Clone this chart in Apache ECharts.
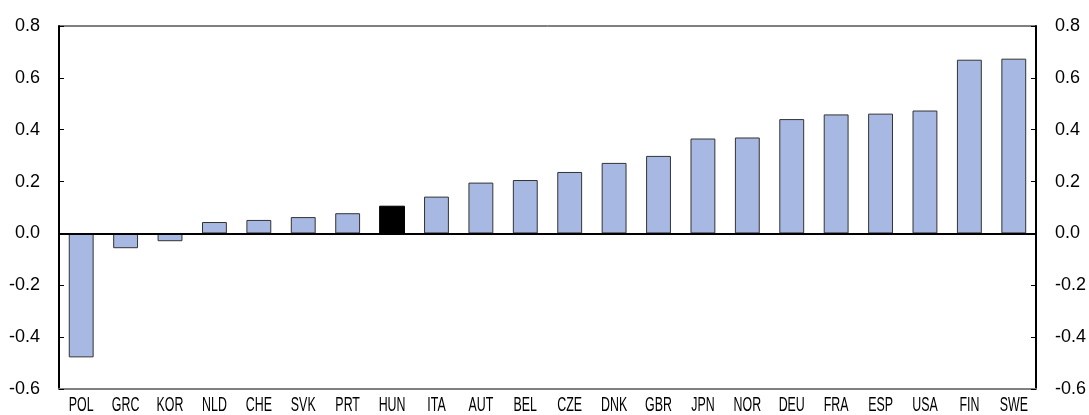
<!DOCTYPE html>
<html>
<head>
<meta charset="utf-8">
<script src="https://cdn.jsdelivr.net/npm/echarts@6/dist/echarts.min.js"></script>
<style>
  html, body { margin: 0; padding: 0; background: #fff; }
  #chart { width: 1089px; height: 415px; }
</style>
</head>
<body>
<div id="chart"></div>
<script>
// 国家代码
const countries = ['POL', 'GRC', 'KOR', 'NLD', 'CHE', 'SVK', 'PRT', 'HUN', 'ITA', 'AUT', 'BEL',
  'CZE', 'DNK', 'GBR', 'JPN', 'NOR', 'DEU', 'FRA', 'ESP', 'USA', 'FIN', 'SWE']
// 数值
const values = [-0.478, -0.057, -0.03, 0.044, 0.052, 0.063, 0.078, 0.105, 0.142, 0.196, 0.206,
  0.237, 0.272, 0.299, 0.366, 0.37, 0.441, 0.459, 0.462, 0.474, 0.67, 0.674]
const highlight = 'HUN'

const font = '"Liberation Sans", Arial, sans-serif'
const yMin = -0.6

const yAxisBase = {
  type: 'value',
  min: yMin,
  max: 0.8,
  interval: 0.2,
  splitLine: { show: false },
  axisLine: { show: true, lineStyle: { color: '#000', width: 2 } },
  axisTick: { show: true, inside: true, length: 5, lineStyle: { color: '#000', width: 1 } },
  axisLabel: {
    color: '#000',
    fontSize: 18,
    fontFamily: font,
    margin: 19,
    formatter: v => v.toFixed(1)
  }
}

// x轴标签：窄体文字（横向压缩）
const renderLabel = (params, api) => {
  const pt = api.coord([api.value(0), yMin])
  return {
    type: 'text',
    x: pt[0],
    y: pt[1] + 16,
    scaleX: 0.62,
    style: {
      text: countries[params.dataIndex],
      font: '20px ' + font,
      fill: '#000',
      align: 'center',
      verticalAlign: 'middle'
    }
  }
}

const options = {
  animation: false,
  grid: {
    left: 59, right: 52, top: 26, bottom: 26,
    show: true,
    borderColor: '#000',
    borderWidth: 1
  },
  xAxis: {
    type: 'category',
    data: countries,
    axisLine: { onZero: false, lineStyle: { color: '#808080', width: 2 } },
    axisTick: { show: false },
    axisLabel: { show: false }
  },
  yAxis: [
    Object.assign({}, yAxisBase, { position: 'left' }),
    Object.assign({}, yAxisBase, { position: 'right' })
  ],
  series: [
    {
      type: 'bar',
      barWidth: '56%',
      data: values.map((v, i) => ({
        value: v,
        itemStyle: countries[i] === highlight
          ? { color: '#000', borderColor: '#000' }
          : { color: '#A7B8E2', borderColor: '#333', borderWidth: 1 }
      })),
      markLine: {
        silent: true,
        symbol: 'none',
        label: { show: false },
        lineStyle: { color: '#000', width: 2, type: 'solid' },
        data: [{ yAxis: 0 }]
      }
    },
    {
      type: 'custom',
      silent: true,
      clip: false,
      renderItem: renderLabel,
      data: countries.map((c, i) => [i, yMin])
    }
  ]
}

let echart = echarts.init(document.getElementById('chart'))
echart.setOption(options)
</script>
</body>
</html>
